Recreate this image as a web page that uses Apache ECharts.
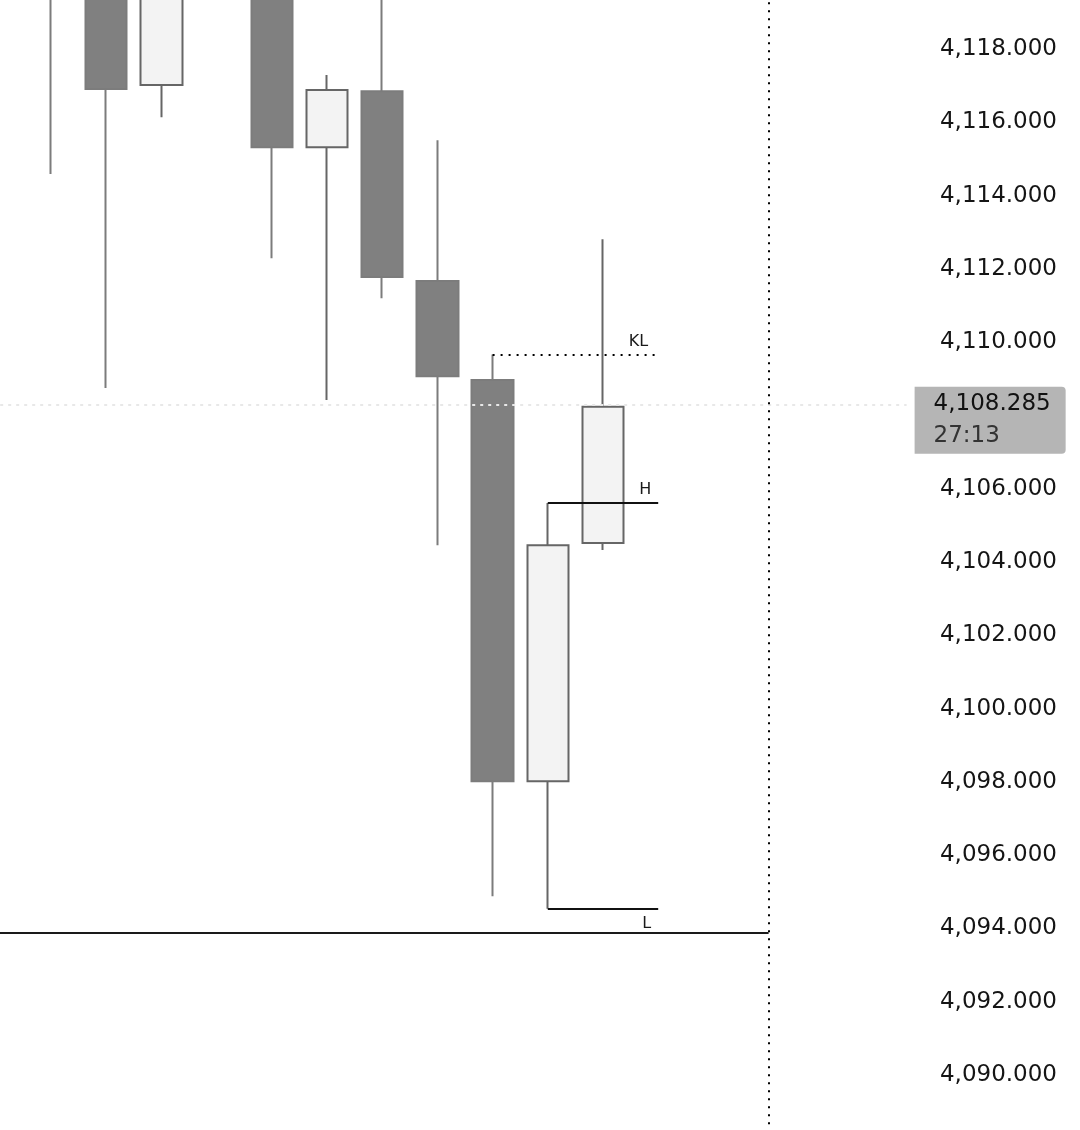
<!DOCTYPE html>
<html>
<head>
<meta charset="utf-8">
<script src="https://cdn.jsdelivr.net/npm/echarts@6/dist/echarts.min.js"></script>
<style>
  html, body { margin: 0; padding: 0; background: #fff; }
  #main { width: 1080px; height: 1130px; }
</style>
</head>
<body>
<div id="main"></div>
<script>
// bars (first and last slots are empty)
var categories = ['0','1','2','3','4','5','6','7','8','9','10','11','12','13','14','15','16'];
var openVals  = ['-', 4121.6, 4120.8, 4117.02, 4120.5, 4120.6, 4115.32, 4116.85, 4111.67, 4108.97, 4098.02, 4104.52, '-', '-', '-', '-', '-'];
var closeVals = ['-', 4120.4, 4116.91, 4120.3, 4122.0, 4115.32, 4116.88, 4111.78, 4109.07, 4098.02, 4104.46, 4108.24, '-', '-', '-', '-', '-'];
var lowVals   = ['-', 4114.59, 4108.75, 4116.14, 4119.8, 4112.29, 4108.42, 4111.20, 4104.46, 4094.88, 4094.54, 4104.33, '-', '-', '-', '-', '-'];
var highVals  = ['-', 4122.3, 4121.5, 4121.2, 4123.0, 4121.4, 4117.29, 4120.2, 4115.51, 4109.66, 4105.61, 4112.81, '-', '-', '-', '-', '-'];

// levels
var lastPrice = 4108.285;
var countdown = '27:13';
var levelKL = 4109.66;
var levelH = 4105.61;
var levelL = 4094.54;
var baseLine = 4093.87;
var sessionEnd = '14';

var candles = categories.map(function (c, i) {
  if (openVals[i] === '-') return '-';
  return [openVals[i], closeVals[i], lowVals[i], highVals[i]];
});

function fmt(v) {
  return v.toLocaleString('en-US', { minimumFractionDigits: 3, maximumFractionDigits: 3 });
}

var axisFont = 'DejaVu Sans';
var tagLabel = { show: true, fontFamily: axisFont, fontSize: 16, color: '#1a1a1a', distance: [7, 5] };

var myChart = echarts.init(document.getElementById('main'));
var option = {
  backgroundColor: '#ffffff',
  animation: false,
  grid: { left: -31.8, right: 173.4, top: -24.3, bottom: -18.3, containLabel: false, outerBoundsMode: 'none' },
  xAxis: {
    type: 'category',
    data: categories,
    show: false
  },
  yAxis: {
    type: 'value',
    position: 'right',
    min: 4088,
    max: 4120,
    interval: 2,
    axisLine: { show: false },
    axisTick: { show: false },
    splitLine: { show: false },
    axisLabel: {
      align: 'right',
      margin: 150.4,
      fontFamily: axisFont,
      fontSize: 23,
      color: '#151515',
      formatter: function (v) { return fmt(v); }
    }
  },
  series: [{
    type: 'candlestick',
    data: candles,
    barWidth: 42,
    itemStyle: {
      color: '#f3f3f3',
      color0: '#808080',
      borderColor: '#666666',
      borderColor0: '#7c7c7c',
      borderWidth: 2
    },
    markLine: {
      symbol: ['none', 'none'],
      silent: true,
      animation: false,
      data: [
        {
          yAxis: lastPrice,
          lineStyle: { color: '#e8e8e8', type: [3, 5], width: 2 },
          label: {
            show: true,
            position: 'end',
            distance: 8,
            offset: [0, 15],
            backgroundColor: '#b5b5b5',
            borderRadius: [0, 4, 4, 0],
            padding: [1, 15, 2, 19],
            formatter: function () {
              return '{a|' + fmt(lastPrice) + '}\n{b|' + countdown + '}';
            },
            rich: {
              a: { fontFamily: axisFont, fontSize: 23, lineHeight: 32, color: '#111111' },
              b: { fontFamily: axisFont, fontSize: 23, lineHeight: 32, color: '#333333' }
            }
          }
        },
        {
          xAxis: sessionEnd,
          lineStyle: { color: '#000000', type: [2, 6], width: 2 },
          label: { show: false }
        },
        [
          { coord: ['0', baseLine], lineStyle: { color: '#1a1a1a', type: 'solid', width: 2 }, label: { show: false } },
          { coord: [sessionEnd, baseLine] }
        ],
        [
          { coord: ['9', levelKL], lineStyle: { color: '#000000', type: [2, 6], width: 2 },
            label: Object.assign({}, tagLabel, { position: 'insideEndTop', formatter: 'KL', distance: [10, 5] }) },
          { coord: ['12', levelKL] }
        ],
        [
          { coord: ['10', levelH], lineStyle: { color: '#111111', type: 'solid', width: 2 },
            label: Object.assign({}, tagLabel, { position: 'insideEndTop', formatter: 'H' }) },
          { coord: ['12', levelH] }
        ],
        [
          { coord: ['10', levelL], lineStyle: { color: '#111111', type: 'solid', width: 2 },
            label: Object.assign({}, tagLabel, { position: 'insideEndBottom', formatter: 'L', distance: [7, 7] }) },
          { coord: ['12', levelL] }
        ]
      ]
    }
  }]
};
myChart.setOption(option);
</script>
</body>
</html>
